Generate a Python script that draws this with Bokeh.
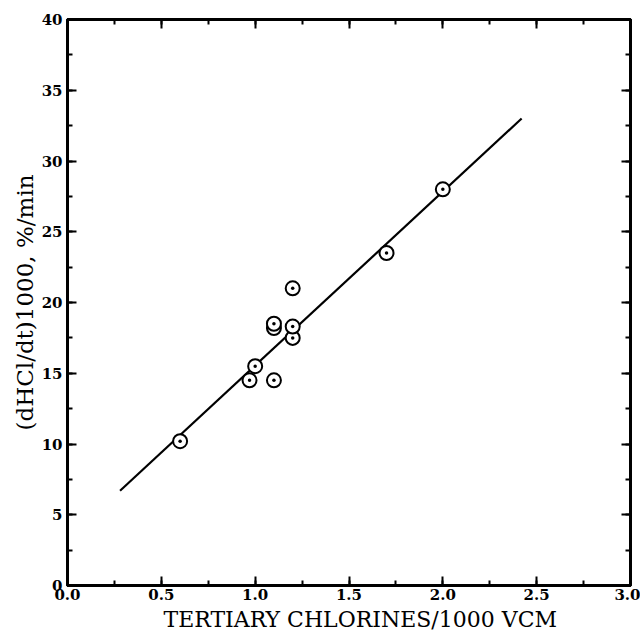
from bokeh.plotting import figure
from bokeh.models import LinearAxis, Range1d, SingleIntervalTicker, CustomJSTickFormatter, Title
from bokeh.embed import file_html
from bokeh.resources import INLINE

# data
tert_cl = [0.60, 0.97, 1.00, 1.10, 1.10, 1.10, 1.20, 1.20, 1.20, 1.70, 2.00]
rate = [10.2, 14.5, 15.5, 14.5, 18.2, 18.5, 17.5, 18.3, 21.0, 23.5, 28.0]
fit_x = [0.28, 2.42]
fit_y = [6.7, 33.0]
x_title = "TERTIARY CHLORINES/1000 VCM"
y_title = "(dHCl/dt)1000, %/min"

FONT = "DejaVu Serif"

p = figure(width=640, height=636, output_backend="svg", toolbar_location=None,
           x_range=Range1d(0, 3), y_range=Range1d(0, 40),
           min_border_left=67, min_border_right=10, min_border_top=19, min_border_bottom=51)
p.grid.visible = False
p.outline_line_color = "black"
p.outline_line_width = 3
p.background_fill_color = "white"
p.border_fill_color = "white"

p.line(fit_x, fit_y, line_color="black", line_width=2.2)
p.scatter(tert_cl, rate, marker="circle_dot", size=14, line_color="black",
          line_width=2, fill_color="white")

def style(ax, ticks):
    ax.ticker = ticks
    ax.axis_line_width = 3
    ax.major_tick_in = 9
    ax.major_tick_out = 0
    ax.minor_tick_in = 5
    ax.minor_tick_out = 0
    ax.major_tick_line_width = 2
    ax.minor_tick_line_width = 2
    ax.major_label_text_font = FONT
    ax.major_label_text_font_style = "bold"
    ax.major_label_text_font_size = "15px"
    ax.major_label_text_color = "black"
    ax.major_label_standoff = 3

style(p.xaxis[0], SingleIntervalTicker(interval=0.5, num_minor_ticks=2))
style(p.yaxis[0], SingleIntervalTicker(interval=5, num_minor_ticks=2))
p.xaxis[0].formatter = CustomJSTickFormatter(code="return tick.toFixed(1);")
p.yaxis[0].formatter = CustomJSTickFormatter(code="return tick.toFixed(0);")
p.xaxis[0].major_label_standoff = 3
p.yaxis[0].major_label_standoff = 5

top = LinearAxis()
right = LinearAxis()
style(top, SingleIntervalTicker(interval=0.5, num_minor_ticks=2))
style(right, SingleIntervalTicker(interval=5, num_minor_ticks=2))
for ax in (top, right):
    ax.formatter = CustomJSTickFormatter(code="return '';")
    ax.major_label_standoff = 0
p.add_layout(top, "above")
p.add_layout(right, "right")

xt = Title(text=x_title, align="left", offset=96, text_font=FONT,
           text_font_size="22px", text_font_style="normal", text_color="black",
           standoff=4)
yt = Title(text=y_title, align="center", text_font=FONT,
           text_font_size="23px", text_font_style="normal", text_color="black",
           standoff=2)
p.add_layout(xt, "below")
p.add_layout(yt, "left")

open("out.html", "w").write(file_html(p, INLINE))
